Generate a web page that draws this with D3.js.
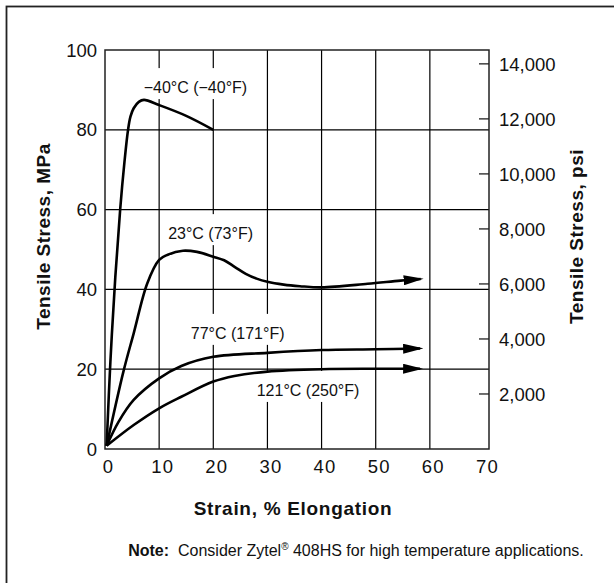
<!DOCTYPE html>
<html>
<head>
<meta charset="utf-8">
<script src="https://cdn.jsdelivr.net/npm/d3@7"></script>
<style>
  html, body { margin: 0; padding: 0; background: #fff; }
  svg { display: block; font-family: "Liberation Sans", Arial, Helvetica, sans-serif; }
</style>
</head>
<body>
<svg id="chart" width="614" height="583"></svg>
<script>
// ---- data (strain %, stress MPa) ----
const xTicks = [0, 10, 20, 30, 40, 50, 60, 70];
const yTicksMPa = [0, 20, 40, 60, 80, 100];
const yTicksPsi = [2000, 4000, 6000, 8000, 10000, 12000, 14000];
const MPA_TO_PSI = 145.038;

const seriesNames = ["−40°C (−40°F)", "23°C (73°F)", "77°C (171°F)", "121°C (250°F)"];
const seriesArrow = [false, true, true, true];

const strainM40 = [0.3, 1.0, 1.9, 2.8, 3.6, 4.26, 4.7, 5.3, 6.25, 7.2, 10, 15, 20];
const stressM40 = [0.8, 22, 43, 60, 72, 80, 83.3, 85.4, 87, 87.5, 86.2, 83.5, 80];

const strain23 = [0.3, 3.4, 5.3, 7.8, 10, 11.6, 14.4, 17, 20, 22, 24, 26, 28, 30, 33, 36, 40, 48.5, 54.6, 58.3];
const stress23 = [0.8, 19.4, 29, 41.5, 47.4, 48.7, 49.7, 49.4, 48.2, 47.3, 45.6, 43.9, 42.7, 41.9, 41.2, 40.8, 40.5, 41.4, 42.2, 42.6];

const strain77 = [0.3, 2.5, 5.3, 10, 14.1, 20, 30, 40, 50, 58.2];
const stress77 = [0.8, 6.8, 12.3, 17.7, 20.8, 23.1, 24.1, 24.8, 25, 25.2];

const strain121 = [0.3, 5.3, 10, 14.1, 20, 23.9, 30, 40, 50, 58.2];
const stress121 = [0.8, 6, 10.2, 13.1, 16.9, 18.3, 19.4, 20, 20.1, 20.1];

// label anchors (strain, stress) for each curve's annotation
const labelStrain = [16.7, 19.5, 24.5, 37.5];
const labelStress = [89.2, 52.6, 27.6, 13.3];

const xTitle = "Strain, % Elongation";
const yTitleLeft = "Tensile Stress, MPa";
const yTitleRight = "Tensile Stress, psi";
const noteBold = "Note:";
const notePre = "\u00a0 Consider Zytel";
const noteMark = "®";
const notePost = " 408HS for high temperature applications.";

// ---- layout ----
const svg = d3.select("#chart");
const mLeft = 105, mTop = 50, mBottom = 449, plotRight = 489;
const x = d3.scaleLinear().domain([0, 70]).range([mLeft, 484]);
const y = d3.scaleLinear().domain([0, 100]).range([mBottom, mTop]);
const yPsi = d3.scaleLinear().domain([0, 100 * MPA_TO_PSI]).range([mBottom, mTop]);

// outer border (open at right/bottom like the reference crop)
svg.append("rect").attr("x", 6.5).attr("y", 6.5).attr("width", 800).attr("height", 800)
  .attr("fill", "none").attr("stroke", "#222").attr("stroke-width", 1.8);

// marker
svg.append("defs").append("marker")
  .attr("id", "arrow").attr("markerUnits", "userSpaceOnUse")
  .attr("viewBox", "0 -5 20 10").attr("refX", 17).attr("refY", 0)
  .attr("markerWidth", 20).attr("markerHeight", 10).attr("orient", "auto")
  .append("path").attr("d", "M0,-5L20,0L0,5Z").attr("fill", "#000");

// gridlines
const g = svg.append("g");
g.selectAll(".vg").data(xTicks.filter(d => d > 0 && d < 70)).enter().append("line")
  .attr("x1", d => x(d)).attr("x2", d => x(d)).attr("y1", mTop).attr("y2", mBottom)
  .attr("stroke", "#000").attr("stroke-width", 1.2);
g.selectAll(".hg").data(yTicksMPa.filter(d => d > 0 && d < 100)).enter().append("line")
  .attr("x1", mLeft).attr("x2", plotRight).attr("y1", d => y(d)).attr("y2", d => y(d))
  .attr("stroke", "#000").attr("stroke-width", 1.2);

// label background layer (above grid)
const bgG = svg.append("g");

// frame
svg.append("rect").attr("x", mLeft).attr("y", mTop).attr("width", plotRight - mLeft).attr("height", mBottom - mTop)
  .attr("fill", "none").attr("stroke", "#222").attr("stroke-width", 1.5);

// right axis ticks (inward)
const ra = svg.append("g");
ra.selectAll("line").data(yTicksPsi).enter().append("line")
  .attr("x1", plotRight - 10).attr("x2", plotRight).attr("y1", d => yPsi(d)).attr("y2", d => yPsi(d))
  .attr("stroke", "#222").attr("stroke-width", 1.3);
ra.selectAll("text").data(yTicksPsi).enter().append("text")
  .attr("x", plotRight + 10).attr("y", d => yPsi(d)).attr("dy", "0.36em")
  .attr("font-size", 18.5).attr("fill", "#111").text(d => d3.format(",")(d));

// left tick labels
svg.append("g").selectAll("text").data(yTicksMPa).enter().append("text")
  .attr("x", mLeft - 8).attr("y", d => y(d)).attr("dy", "0.36em").attr("text-anchor", "end")
  .attr("font-size", 18.5).attr("fill", "#111").text(d => d);

// bottom tick labels
svg.append("g").selectAll("text").data(xTicks).enter().append("text")
  .attr("x", d => x(d) + 3.5).attr("y", 473).attr("text-anchor", "middle")
  .attr("font-size", 18.5).attr("letter-spacing", "1.2px").attr("fill", "#111").text(d => d);

// curves
const seriesData = [
  d3.zip(strainM40, stressM40),
  d3.zip(strain23, stress23),
  d3.zip(strain77, stress77),
  d3.zip(strain121, stress121)
];
const line = d3.line().x(d => x(d[0])).y(d => y(d[1])).curve(d3.curveCatmullRom.alpha(0.5));
svg.append("g").selectAll("path").data(seriesData).enter().append("path")
  .attr("d", line).attr("fill", "none").attr("stroke", "#000").attr("stroke-width", 2.6)
  .attr("stroke-linejoin", "round")
  .attr("marker-end", (d, i) => seriesArrow[i] ? "url(#arrow)" : null);

// curve labels on top
const labels = seriesNames.map((name, i) => ({ name, sx: labelStrain[i], sy: labelStress[i] }));
const labelG = svg.append("g");
labelG.selectAll("text").data(labels).enter().append("text")
  .attr("x", d => x(d.sx)).attr("y", d => y(d.sy)).attr("text-anchor", "middle")
  .attr("font-size", 16).attr("fill", "#111").text(d => d.name)
  .each(function() {
    const b = this.getBBox();
    bgG.append("rect").attr("x", b.x - 4).attr("y", b.y - 11).attr("width", b.width + 8)
      .attr("height", b.height + 14).attr("fill", "#fff");
  });

// axis titles
svg.append("text").attr("transform", "translate(50,236.5) rotate(-90)")
  .attr("text-anchor", "middle").attr("font-size", 19).attr("font-weight", "bold")
  .attr("letter-spacing", "0.5px").attr("fill", "#111").text(yTitleLeft);
svg.append("text").attr("transform", "translate(583,236.5) rotate(-90)")
  .attr("text-anchor", "middle").attr("font-size", 19).attr("font-weight", "bold")
  .attr("letter-spacing", "0.5px").attr("fill", "#111").text(yTitleRight);
svg.append("text").attr("x", 293).attr("y", 515).attr("text-anchor", "middle")
  .attr("font-size", 19).attr("font-weight", "bold").attr("letter-spacing", "0.7px")
  .attr("fill", "#111").text(xTitle);

// note
const note = svg.append("text").attr("x", 356).attr("y", 556).attr("text-anchor", "middle")
  .attr("font-size", 16).attr("fill", "#111");
note.append("tspan").attr("font-weight", "bold").text(noteBold);
note.append("tspan").text(notePre);
note.append("tspan").attr("font-size", 10).attr("dy", -6).text(noteMark);
note.append("tspan").attr("dy", 6).text(notePost);
</script>
</body>
</html>
